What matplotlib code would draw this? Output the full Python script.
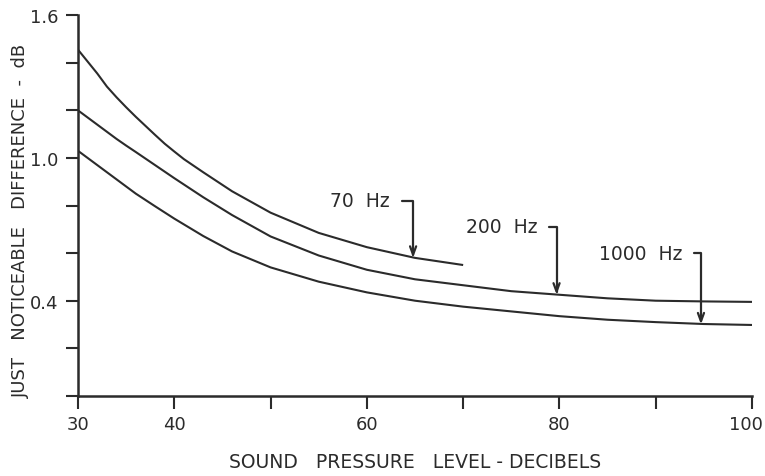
import numpy as np
import matplotlib
matplotlib.use("Agg")
import matplotlib.pyplot as plt
from matplotlib.transforms import ScaledTranslation

# curves (sound pressure level dB, JND dB)
spl_70 = [30, 31, 32, 33, 34, 35, 36, 37, 38, 39, 40, 41, 43, 46, 50, 55, 60, 65, 70]
jnd_70 = [1.455, 1.405, 1.355, 1.30, 1.255, 1.213, 1.173, 1.135, 1.097, 1.06, 1.027,
          0.995, 0.94, 0.86, 0.77, 0.685, 0.625, 0.58, 0.55]

spl_200 = [30, 31, 32, 33, 34, 35, 36, 38, 40, 43, 46, 50, 55, 60, 65, 70, 75, 80,
           85, 90, 95, 100]
jnd_200 = [1.20, 1.17, 1.14, 1.11, 1.08, 1.052, 1.025, 0.97, 0.915, 0.835, 0.76,
           0.67, 0.59, 0.53, 0.49, 0.465, 0.44, 0.425, 0.41, 0.40, 0.397, 0.395]

spl_1000 = [30, 31, 32, 33, 34, 35, 36, 38, 40, 43, 46, 50, 55, 60, 65, 70, 75, 80,
            85, 90, 95, 100]
jnd_1000 = [1.03, 1.0, 0.97, 0.94, 0.91, 0.88, 0.85, 0.797, 0.745, 0.672, 0.607, 0.54,
            0.48, 0.435, 0.40, 0.375, 0.355, 0.335, 0.32, 0.31, 0.302, 0.298]

labels = ["70  Hz", "200  Hz", "1000  Hz"]
arrow_tips = [(64.8, 0.58), (79.7, 0.425), (94.7, 0.30)]
label_pos = [(62.4, 0.82), (77.7, 0.71), (92.8, 0.60)]

xticks = [30, 40, 50, 60, 70, 80, 90, 100]
xticklabels = ["30", "40", "", "60", "", "80", "", "100"]
yticks = [0.0, 0.2, 0.4, 0.6, 0.8, 1.0, 1.2, 1.4, 1.6]
yticklabels = ["", "", "0.4", "", "", "1.0", "", "", "1.6"]

ink = "#2b2b2b"
fig = plt.figure(figsize=(7.65, 4.77), dpi=100)
ax = fig.add_axes([0.102, 0.168, 0.881, 0.798])

for x, y in [(spl_70, jnd_70), (spl_200, jnd_200), (spl_1000, jnd_1000)]:
    ax.plot(x, y, color=ink, linewidth=1.5, solid_capstyle="butt")

for lab, (tx, ty), (px, py) in zip(labels, label_pos, arrow_tips):
    ax.text(tx, ty, lab, ha="right", va="center", fontsize=13.5, color=ink)
    ax.annotate("", xy=(px, py), xytext=(tx + 1.2, ty),
                arrowprops=dict(arrowstyle="->,head_length=0.6,head_width=0.22",
                                connectionstyle="angle,angleA=0,angleB=90,rad=0",
                                color=ink, lw=1.6, shrinkA=0, shrinkB=0))

ax.set_xlim(30, 100)
ax.set_ylim(0, 1.6)
ax.set_xticks(xticks)
ax.set_xticklabels(xticklabels)
ax.set_yticks(yticks)
ax.set_yticklabels(yticklabels)
ax.tick_params(direction="out", length=9, width=1.5, color=ink, labelsize=13,
               labelcolor=ink, pad=5)
# keep "100" inside the figure
last = ax.get_xticklabels()[-1]
last.set_transform(last.get_transform() + ScaledTranslation(-6 / 100, 0, fig.dpi_scale_trans))

for s in ["top", "right"]:
    ax.spines[s].set_visible(False)
for s in ["left", "bottom"]:
    ax.spines[s].set_linewidth(1.8)
    ax.spines[s].set_color(ink)

ax.set_xlabel("SOUND   PRESSURE   LEVEL - DECIBELS", fontsize=13.5, color=ink)
ax.xaxis.set_label_coords(0.5, -0.148)
ax.set_ylabel("JUST   NOTICEABLE   DIFFERENCE  -  dB", fontsize=13, color=ink)
ax.yaxis.set_label_coords(-0.072, 0.462)

fig.savefig("out.png", dpi=100)
